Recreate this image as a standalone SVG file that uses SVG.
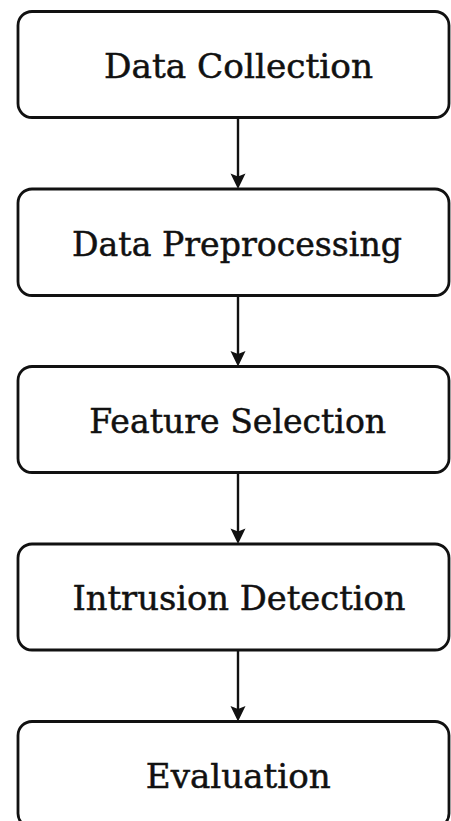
<svg xmlns="http://www.w3.org/2000/svg" width="451" height="821" viewBox="0 0 451 821">
  <style>
    .box { fill: #ffffff; stroke: #111111; stroke-width: 2.8; }
    .label { font-family: "DejaVu Serif", "Liberation Serif", serif; font-size: 34px; fill: #111111; stroke: #111111; stroke-width: 0.5; text-anchor: middle; }
    .edge { stroke: #111111; stroke-width: 2.4; fill: none; }
    .head { fill: #111111; }
  </style>
  <rect width="451" height="821" fill="#ffffff"/>

  <g id="connectors">
    <line class="edge" x1="238" y1="118" x2="238" y2="178"/>
    <path class="head" d="M230.5,173.5 L238,189 L245.5,173.5 L238,176.5 Z"/>
    <line class="edge" x1="238" y1="296" x2="238" y2="355.5"/>
    <path class="head" d="M230.5,351 L238,366.5 L245.5,351 L238,354 Z"/>
    <line class="edge" x1="238" y1="473" x2="238" y2="533"/>
    <path class="head" d="M230.5,528.5 L238,544 L245.5,528.5 L238,531.5 Z"/>
    <line class="edge" x1="238" y1="651" x2="238" y2="710.5"/>
    <path class="head" d="M230.5,706 L238,721.5 L245.5,706 L238,709 Z"/>
  </g>

  <g id="data-collection">
    <rect class="box" x="18" y="11.5" width="431" height="106" rx="14"/>
    <text class="label" x="238.5" y="77.5" textLength="269" lengthAdjust="spacingAndGlyphs">Data Collection</text>
  </g>
  <g id="data-preprocessing">
    <rect class="box" x="18" y="189" width="431" height="106.5" rx="14"/>
    <text class="label" x="237" y="255.5" textLength="330" lengthAdjust="spacingAndGlyphs">Data Preprocessing</text>
  </g>
  <g id="feature-selection">
    <rect class="box" x="18" y="366.5" width="431" height="106" rx="14"/>
    <text class="label" x="237.7" y="432.5" textLength="297" lengthAdjust="spacingAndGlyphs">Feature Selection</text>
  </g>
  <g id="intrusion-detection">
    <rect class="box" x="18" y="544" width="431" height="106" rx="14"/>
    <text class="label" x="239" y="610" textLength="333" lengthAdjust="spacingAndGlyphs">Intrusion Detection</text>
  </g>
  <g id="evaluation">
    <rect class="box" x="18" y="721.5" width="431" height="106" rx="14"/>
    <text class="label" x="238.3" y="787.5" textLength="185" lengthAdjust="spacingAndGlyphs">Evaluation</text>
  </g>
</svg>
